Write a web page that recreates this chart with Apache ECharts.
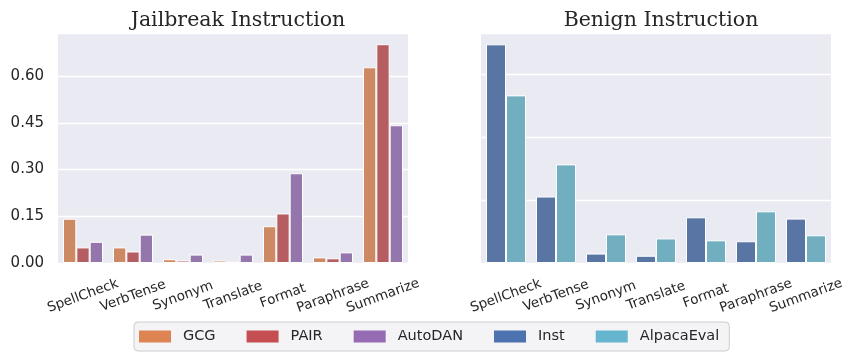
<!DOCTYPE html>
<html>
<head>
<meta charset="utf-8">
<script src="https://cdn.jsdelivr.net/npm/echarts@6/dist/echarts.min.js"></script>
<style>
html, body { margin: 0; padding: 0; background: #fff; }
#main { width: 856px; height: 359px; }
</style>
</head>
<body>
<div id="main"></div>
<script>
// data
var tasks = ['SpellCheck', 'VerbTense', 'Synonym', 'Translate', 'Format', 'Paraphrase', 'Summarize'];
var gcg = [0.142, 0.050, 0.012, 0.008, 0.118, 0.018, 0.628];
var pair = [0.050, 0.037, 0.008, 0.004, 0.159, 0.015, 0.702];
var autodan = [0.068, 0.091, 0.027, 0.027, 0.288, 0.034, 0.442];
var inst = [0.694, 0.211, 0.030, 0.023, 0.145, 0.069, 0.141];
var alpaca = [0.532, 0.313, 0.091, 0.078, 0.072, 0.164, 0.088];
var leftTicks = [0, 0.15, 0.30, 0.45, 0.60];

function create_instruction_bars(){
var chartDom = document.getElementById('main');
var myChart = echarts.init(chartDom, null, { renderer: 'canvas' });
var option;

// legend uses full colours, bars the seaborn-desaturated ones
const legendColors = ['#dd8452', '#c44e52', '#956cb4', '#4c72b0', '#64b5cd'];
const barColors = ['#cc8963', '#b55d60', '#9476ac', '#5975a4', '#71aec0'];
const names = ['GCG', 'PAIR', 'AutoDAN', 'Inst', 'AlpacaEval'];
const txt = '#262626';

function xAxisFor(idx) {
    return {
        type: 'category',
        gridIndex: idx,
        data: tasks,
        axisLine: { show: false },
        axisTick: { show: false },
        axisLabel: {
            interval: 0,
            rotate: 20,
            align: 'center',
            verticalAlign: 'middle',
            margin: 33,
            fontSize: 13.5,
            fontFamily: 'DejaVu Sans',
            color: txt
        }
    };
}

function barSeries(i, data, axis) {
    return {
        name: names[i],
        type: 'bar',
        xAxisIndex: axis,
        yAxisIndex: axis,
        data: data,
        barGap: '0%',
        barCategoryGap: '20%',
        itemStyle: { color: barColors[i], borderColor: '#ffffff', borderWidth: 1 },
        emphasis: { disabled: true }
    };
}

option = {
    animation: false,
    title: [
        {
            text: 'Jailbreak Instruction',
            left: 233, top: 5, textAlign: 'center',
            textStyle: { fontFamily: 'DejaVu Serif', fontSize: 20.5, fontWeight: 'normal', color: txt }
        },
        {
            text: 'Benign Instruction',
            left: 656, top: 5, textAlign: 'center',
            textStyle: { fontFamily: 'DejaVu Serif', fontSize: 20.5, fontWeight: 'normal', color: txt }
        }
    ],
    legend: {
        left: 134,
        top: 322,
        itemWidth: 32,
        itemHeight: 12,
        itemGap: 31,
        padding: [7, 10, 7, 5],
        backgroundColor: '#f4f4f7',
        borderColor: '#cccccc',
        borderWidth: 1,
        borderRadius: 4,
        icon: 'rect',
        textStyle: { fontFamily: 'DejaVu Sans', fontSize: 14.5, color: txt, padding: [0, 0, 0, 7] },
        data: names.map(function (n, i) {
            return { name: n, itemStyle: { color: legendColors[i], borderWidth: 0 } };
        })
    },
    grid: [
        { left: 58, right: 448, top: 33, bottom: 96, show: true, backgroundColor: '#eaeaf2', borderWidth: 0 },
        { left: 481, right: 25, top: 33, bottom: 96, show: true, backgroundColor: '#eaeaf2', borderWidth: 0 }
    ],
    xAxis: [xAxisFor(0), xAxisFor(1)],
    yAxis: [
        {
            type: 'value',
            gridIndex: 0,
            min: 0,
            max: 0.738,
            interval: 0.15,
            axisLine: { show: false },
            axisTick: { show: false },
            splitLine: { lineStyle: { color: '#ffffff', width: 1.3 } },
            axisLabel: {
                margin: 14,
                fontSize: 15,
                fontFamily: 'DejaVu Sans',
                color: txt,
                showMaxLabel: false,
                formatter: function (v) {
                    return leftTicks.indexOf(Math.round(v * 100) / 100) >= 0 ? v.toFixed(2) : '';
                }
            }
        },
        {
            type: 'value',
            gridIndex: 1,
            min: 0,
            max: 0.73,
            interval: 0.2,
            axisLine: { show: false },
            axisTick: { show: false },
            splitLine: { lineStyle: { color: '#ffffff', width: 1.3 } },
            axisLabel: { show: false }
        }
    ],
    series: [
        barSeries(0, gcg, 0),
        barSeries(1, pair, 0),
        barSeries(2, autodan, 0),
        barSeries(3, inst, 1),
        barSeries(4, alpaca, 1)
    ]
};
option && myChart.setOption(option);}

create_instruction_bars();
</script>
</body>
</html>
